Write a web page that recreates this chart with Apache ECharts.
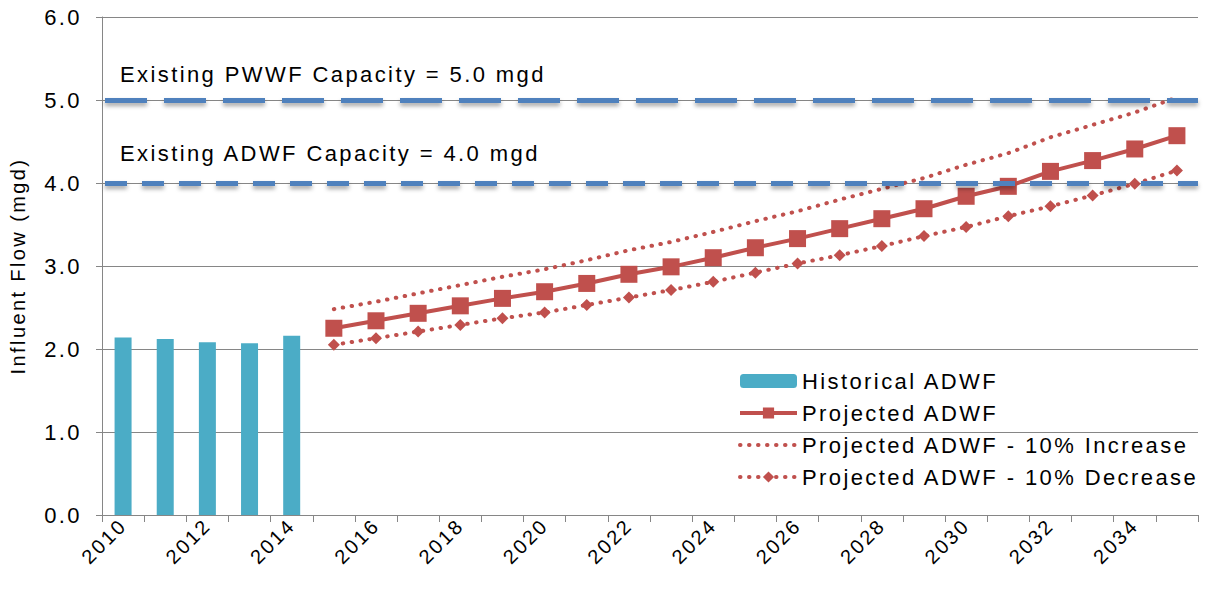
<!DOCTYPE html>
<html>
<head>
<meta charset="utf-8">
<script src="https://cdn.jsdelivr.net/npm/echarts@6/dist/echarts.min.js"></script>
<style>
  html, body { margin: 0; padding: 0; background: #fff; }
  #chart { width: 1206px; height: 594px; letter-spacing: 2.4px; }
</style>
</head>
<body>
<div id="chart"></div>
<script>
// Influent flow, historical and projected (mgd)
const years = [];
for (let y = 2010; y <= 2035; y++) years.push(String(y));

const historicalYears = ['2010', '2011', '2012', '2013', '2014'];
const historicalADWF = [2.14, 2.12, 2.08, 2.07, 2.16];

const projectedYears = ['2015', '2016', '2017', '2018', '2019', '2020', '2021',
  '2022', '2023', '2024', '2025', '2026', '2027', '2028', '2029', '2030',
  '2031', '2032', '2033', '2034', '2035'];
const projectedADWF = [2.25, 2.34, 2.43, 2.52, 2.61, 2.69, 2.79, 2.90, 2.99, 3.10,
  3.22, 3.33, 3.45, 3.57, 3.69, 3.84, 3.96, 4.14, 4.27, 4.41, 4.57];
const projectedHigh = [2.48, 2.57, 2.67, 2.77, 2.87, 2.96, 3.07, 3.19, 3.29, 3.41,
  3.54, 3.66, 3.80, 3.93, 4.06, 4.22, 4.36, 4.55, 4.70, 4.85, 5.03];
const projectedLow = [2.05, 2.13, 2.21, 2.29, 2.37, 2.44, 2.53, 2.62, 2.71, 2.81,
  2.92, 3.03, 3.13, 3.24, 3.36, 3.47, 3.60, 3.72, 3.85, 3.99, 4.15];

const capacityPWWF = 5.0;
const capacityADWF = 4.0;

const yTicks = [0, 1, 2, 3, 4, 5, 6];

// spread a partial series onto the full year axis
function onYears(keys, vals) {
  return years.map(y => {
    const i = keys.indexOf(y);
    return i < 0 ? null : vals[i];
  });
}

const FONT = '"Liberation Sans", Arial, sans-serif';
const RED = '#c0504d';
const BLUE = '#4f81bd';
const TEAL = '#4bacc6';
const GRID = '#868686';

const dotted = { width: 4, type: [0.5, 8.5], cap: 'round', color: RED };

const chart = echarts.init(document.getElementById('chart'), null, { renderer: 'svg' });

// soft drop shadow under the capacity lines
chart.on('finished', () => {
  const svg = document.querySelector('#chart svg');
  if (!svg || svg.querySelector('#capShadow')) return;
  const NS = 'http://www.w3.org/2000/svg';
  const defs = document.createElementNS(NS, 'defs');
  const filter = document.createElementNS(NS, 'filter');
  filter.setAttribute('id', 'capShadow');
  filter.setAttribute('filterUnits', 'userSpaceOnUse');
  filter.setAttribute('x', '0');
  filter.setAttribute('y', '0');
  filter.setAttribute('width', '1206');
  filter.setAttribute('height', '594');
  const drop = document.createElementNS(NS, 'feDropShadow');
  drop.setAttribute('dx', '0');
  drop.setAttribute('dy', '3');
  drop.setAttribute('stdDeviation', '2');
  drop.setAttribute('flood-color', '#000');
  drop.setAttribute('flood-opacity', '0.35');
  filter.appendChild(drop);
  defs.appendChild(filter);
  svg.insertBefore(defs, svg.firstChild);
  svg.querySelectorAll('path').forEach(p => {
    if ((p.getAttribute('stroke') || '').toLowerCase() === BLUE) {
      p.setAttribute('filter', 'url(#capShadow)');
    }
  });
});

chart.setOption({
  animation: false,
  backgroundColor: '#fff',
  textStyle: { fontFamily: FONT, color: '#000' },
  grid: { left: 102, right: 8, top: 17, bottom: 79, outerBoundsMode: 'none' },
  legend: {
    orient: 'vertical',
    left: 733,
    top: 365,
    itemWidth: 57,
    itemHeight: 14,
    itemGap: 10,
    lineStyle: { width: 'inherit' },
    textStyle: { fontFamily: FONT, fontSize: 22, color: '#000', lineHeight: 22 },
    data: [
      { name: 'Historical ADWF' },
      { name: 'Projected ADWF' },
      { name: 'Projected ADWF - 10% Increase', itemStyle: { opacity: 0 } },
      { name: 'Projected ADWF - 10% Decrease' }
    ]
  },
  xAxis: {
    type: 'category',
    data: years,
    boundaryGap: true,
    axisLine: { lineStyle: { color: GRID, width: 1 } },
    axisTick: { show: true, length: 7, lineStyle: { color: GRID }, interval: 0 },
    axisLabel: {
      interval: 1, rotate: 45, margin: 7,
      fontFamily: FONT, fontSize: 20, color: '#000'
    },
    splitLine: { show: false }
  },
  yAxis: {
    type: 'value',
    min: yTicks[0],
    max: yTicks[yTicks.length - 1],
    interval: 1,
    name: 'Influent Flow (mgd)',
    nameLocation: 'middle',
    nameGap: 74,
    nameTextStyle: { fontFamily: FONT, fontSize: 20, color: '#000' },
    axisLine: { show: true, lineStyle: { color: GRID, width: 1 } },
    axisTick: { show: true, length: 6, lineStyle: { color: GRID } },
    axisLabel: {
      margin: 20, fontFamily: FONT, fontSize: 22, color: '#000',
      formatter: v => v.toFixed(1)
    },
    splitLine: { show: true, lineStyle: { color: GRID, width: 1 } }
  },
  series: [
    {
      name: 'Historical ADWF',
      type: 'bar',
      barWidth: 17,
      z: 3,
      itemStyle: { color: TEAL },
      data: onYears(historicalYears, historicalADWF),
      markLine: {
        silent: true,
        symbol: 'none',
        animation: false,
        lineStyle: { color: BLUE, width: 5, opacity: 1 },
        label: {
          show: true,
          position: 'insideStartTop',
          distance: [18, 15],
          fontFamily: FONT,
          fontSize: 22,
          color: '#000'
        },
        data: [
          {
            yAxis: capacityPWWF,
            lineStyle: { type: [42, 17], dashOffset: -3 },
            label: { formatter: 'Existing PWWF Capacity = ' + capacityPWWF.toFixed(1) + ' mgd' }
          },
          {
            yAxis: capacityADWF,
            lineStyle: { type: [22, 15], dashOffset: -3 },
            label: {
              distance: [18, 19],
              formatter: 'Existing ADWF Capacity = ' + capacityADWF.toFixed(1) + ' mgd'
            }
          }
        ]
      }
    },
    {
      name: 'Projected ADWF',
      type: 'line',
      symbol: 'rect',
      symbolSize: 17,
      showAllSymbol: true,
      itemStyle: { color: RED },
      lineStyle: { color: RED, width: 4 },
      data: onYears(projectedYears, projectedADWF)
    },
    {
      name: 'Projected ADWF - 10% Increase',
      type: 'line',
      symbol: 'none',
      itemStyle: { color: RED },
      lineStyle: dotted,
      data: onYears(projectedYears, projectedHigh)
    },
    {
      name: 'Projected ADWF - 10% Decrease',
      type: 'line',
      symbol: 'diamond',
      symbolSize: 12,
      showAllSymbol: true,
      itemStyle: { color: RED },
      lineStyle: dotted,
      data: onYears(projectedYears, projectedLow)
    }
  ]
});
</script>
</body>
</html>
